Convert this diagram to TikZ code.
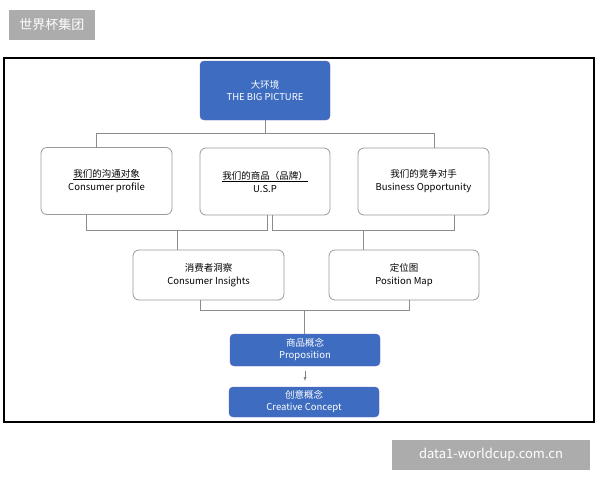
\documentclass[tikz,border=0pt]{standalone}
\usepackage{fontspec}
\setmainfont{Noto Sans CJK SC}
\begin{document}
\begin{tikzpicture}[x=1pt,y=-1pt,
  blue/.style={draw=blue!60!black!60, fill={rgb,255:red,61;green,108;blue,192}, rounded corners=4pt, text=white, align=center, font=\fontsize{9.5}{12}\selectfont, inner sep=0},
  wbox/.style={draw=gray!80, thick, fill=white, rounded corners=6pt, align=center, font=\fontsize{9.5}{13}\selectfont, inner sep=0},
  wm/.style={fill=gray!65, text=white, inner sep=0},
  ln/.style={draw=gray!90, thick}]
\useasboundingbox (0,0) rectangle (600,480);
\node[wm, minimum width=86pt, minimum height=30pt, font=\fontsize{13}{15}\selectfont] (wm1) at (52,25) {世界杯集团};
\node[wm, minimum width=198pt, minimum height=30pt, font=\fontsize{13}{15}\selectfont] (wm2) at (491,455) {data1-worldcup.com.cn};
\node[draw=black, line width=1.5pt, minimum width=590pt, minimum height=364pt, inner sep=0] (frame) at (299,240) {};
\node[blue, minimum width=130pt, minimum height=59pt] (top) at (265,90.5) {大环境\\THE BIG PICTURE};
\node[wbox, minimum width=131pt, minimum height=67pt] (b1) at (106.5,181) {\underline{我们的沟通对象}\\Consumer profile};
\node[wbox, minimum width=130pt, minimum height=67pt] (b2) at (265,181.5) {\underline{我们的商品（品牌）}\\U.S.P};
\node[wbox, minimum width=131pt, minimum height=67pt] (b3) at (423.5,181.5) {我们的竞争对手\\Business Opportunity};
\node[wbox, minimum width=151pt, minimum height=50pt] (c1) at (208.5,275) {消费者洞察\\Consumer Insights};
\node[wbox, minimum width=150pt, minimum height=50pt] (c2) at (404,275) {定位图\\Position Map};
\node[blue, minimum width=150pt, minimum height=32pt] (p) at (305,350) {商品概念\\Proposition};
\node[blue, minimum width=150pt, minimum height=30pt] (cc) at (304,402) {创意概念\\Creative Concept};
\draw[ln] (top.south) -- (265,133) (96,148) -- (96,133) -- (434,133) -- (434,148);
\draw[ln] (86,0 |- b1.south) -- (86,230) -- (267,230) -- (267,0 |- b2.south);
\draw[ln] (177,230) -- (177,250);
\draw[ln] (272,0 |- b2.south) -- (272,230) -- (454,230) -- (454,0 |- b3.south);
\draw[ln] (363,230) -- (363,250);
\draw[ln] (200,0 |- c1.south) -- (200,310) -- (409,310) -- (409,0 |- c2.south);
\draw[ln] (304,310) -- (304,0 |- p.north);
\draw[gray, ->, >=latex] (305,371) -- (305,381);
\end{tikzpicture}
\end{document}
